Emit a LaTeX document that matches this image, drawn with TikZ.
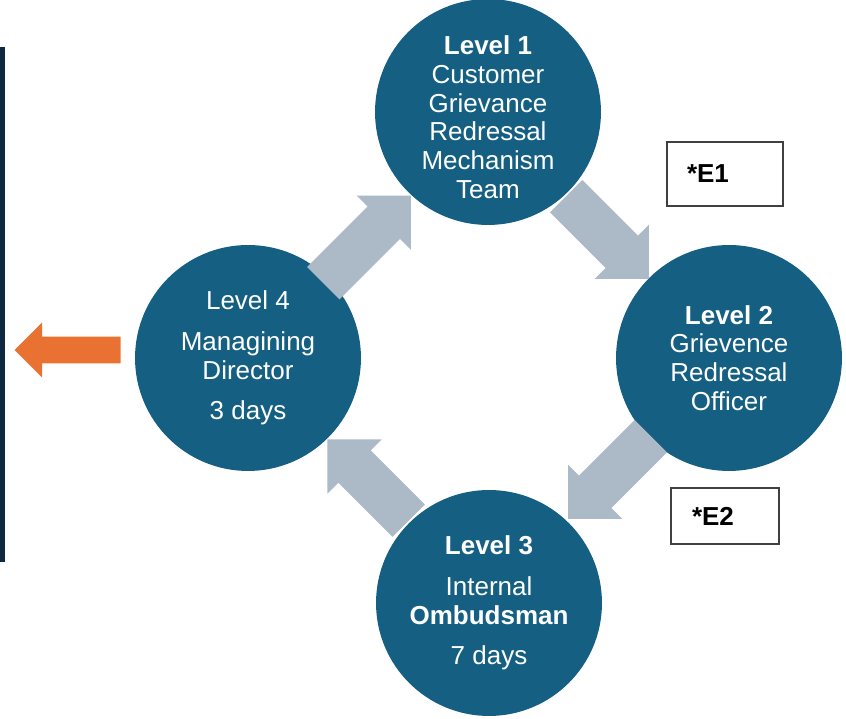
\documentclass[tikz,border=0pt]{standalone}
\usepackage{fontspec}
\setmainfont{Liberation Sans}
\usepackage{tikz}
\usetikzlibrary{shapes.arrows}
\definecolor{levelcolor}{RGB}{21,96,130}
\definecolor{stepcolor}{RGB}{172,185,198}
\definecolor{exitcolor}{RGB}{233,113,50}
\definecolor{barcolor}{RGB}{14,40,65}

\begin{document}
\begin{tikzpicture}[
    x=0.02cm, y=0.02cm,
    level/.style={circle, fill=levelcolor, minimum size=4.52cm, inner sep=0pt, text=white, font=\fontsize{14.8}{16.4}\selectfont, align=center},
    move/.style={single arrow, fill=stepcolor, single arrow head extend=0.31cm, single arrow tip angle=90, inner xsep=0pt, inner ysep=0.45cm, minimum height=#1, anchor=tail},
    note/.style={draw=black!75, line width=0.8pt, text width=#1, inner xsep=0.4cm, minimum height=1.2cm, font=\fontsize{14.8}{16.4}\selectfont\bfseries, align=left}
]
    \useasboundingbox (0,0) rectangle (846,719);

    % Side bar and exit
    \fill[barcolor] (0,157) rectangle (5,672);
    \node[single arrow, fill=exitcolor, single arrow head extend=0.28cm, single arrow tip angle=90, inner xsep=0pt, inner ysep=0.26cm, minimum height=2.12cm, rotate=180, anchor=tail] (exit) at (121,369) {};

    % Levels
    \node[level] (lvl1) at (488,607) {\textbf{Level 1}\\Customer\\Grievance\\Redressal\\Mechanism\\Team\\[-0.78cm]};
    \node[level] (lvl2) at (729,361) {\textbf{Level 2}\\Grievence\\Redressal\\Officer};
    \node[level] (lvl3) at (489,116) {\textbf{Level 3}\\[0.24cm]Internal\\\textbf{Ombudsman}\\[0.24cm]7 days};
    \node[level] (lvl4) at (248,361) {Level 4\\[0.24cm]Managining\\Director\\[0.24cm]3 days};

    % Escalation arrows
    \node[move=2.48cm, rotate=45] (up41) at (323,435.5) {};
    \node[move=2.34cm, rotate=-45] (dn12) at (566,523) {};
    \node[move=2.34cm, rotate=-135] (dn23) at (651,283) {};
    \node[move=2.30cm, rotate=135] (up34) at (409,198) {};

    % Notes
    \node[note=1.52cm, minimum height=1.28cm] (e1) at (725,545) {*E1};
    \node[note=1.32cm, inner xsep=0.42cm, minimum height=1.12cm] (e2) at (725,203) {*E2};
\end{tikzpicture}
\end{document}
